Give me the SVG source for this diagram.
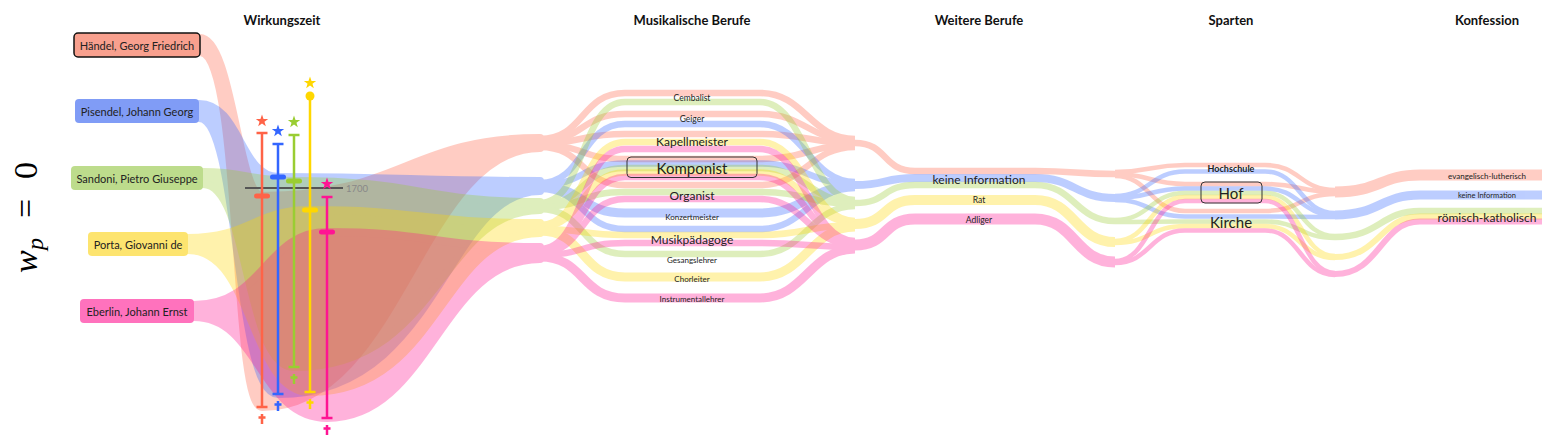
<svg xmlns="http://www.w3.org/2000/svg" xmlns:xlink="http://www.w3.org/1999/xlink" width="1552" height="436" viewBox="0 0 1552 436">
<style>
.hdr{font-family:Lato,"Open Sans",sans-serif;font-weight:700;font-size:13px;fill:#111;text-anchor:middle;dominant-baseline:central}
.lbl{font-family:Lato,"Open Sans",sans-serif;fill:#222;text-anchor:middle;dominant-baseline:central}
.ntx{font-family:Lato,"Open Sans",sans-serif;font-size:11px;fill:#222;text-anchor:middle;dominant-baseline:central}
.flow{opacity:0.32;fill:none}
.flow path{stroke-width:6.5}
.flow .big{stroke-width:8;stroke-linejoin:round}
.flow .w9{stroke-width:9}
.flow .sp{stroke-width:4.5}
.box{fill:none;stroke:#333;stroke-width:1}
.tl{stroke-width:2.5;fill:none}
</style>
<defs>
<polygon id="star" points="0,-6.5 1.53,-2.1 6.18,-2.01 2.47,0.8 3.82,5.26 0,2.6 -3.82,5.26 -2.47,0.8 -6.18,-2.01 -1.53,-2.1"/>
<path id="cross" d="M0,-5V5M-3.5,-1.5H3.5" stroke-width="2.5" fill="none"/>
</defs>
<rect width="1552" height="436" fill="#fff"/>

<text transform="translate(37,273) rotate(-90)" font-family="'Liberation Serif',serif" font-size="34" fill="#000"><tspan x="0" font-style="italic">w</tspan><tspan x="23" dy="6" font-size="24" font-style="italic">p</tspan><tspan x="55" dy="-6">=</tspan><tspan x="94">0</tspan></text>

<g id="headers">
<text class="hdr" x="282" y="20">Wirkungszeit</text>
<text class="hdr" x="692" y="20">Musikalische Berufe</text>
<text class="hdr" x="979" y="20">Weitere Berufe</text>
<text class="hdr" x="1231" y="20">Sparten</text>
<text class="hdr" x="1487" y="20">Konfession</text>
</g>

<g id="connectors">
<g id="flow-haendel" class="flow" stroke="#ff6347">
<path class="big" fill="#ff6347" d="M200,38 C232,38 238,196 262,196 C400,196 410,138 540,138 L540,148 C420,148 400,407 262,407 C232,407 242,52 200,52 Z"/>
<path d="M540,139 C585,139 580,93 625,93 L760,93 C805,93 810,139 855,139"/>
<path d="M540,141 C585,141 580,114 625,114 L760,114 C805,114 810,141 855,141"/>
<path d="M540,143 C585,143 580,134 625,134 L760,134 C805,134 810,143 855,143"/>
<path d="M540,145 C585,145 580,159 625,159 L760,159 C805,159 810,145 855,145"/>
<path d="M540,147 C585,147 580,185 625,185 L760,185 C805,185 810,147 855,147"/>
<path d="M855,143 C888,143 882,171 915,171 L1035,171 C1075,171 1075,174 1115,174"/>
<path class="sp" d="M1115,172 C1150,172 1150,165 1185,165 L1265,165 C1300,165 1300,190 1335,190"/>
<path class="sp" d="M1115,174 C1150,174 1150,184 1185,184 L1265,184 C1300,184 1300,192 1335,192"/>
<path class="sp" d="M1115,176 C1150,176 1150,211 1185,211 L1265,211 C1300,211 1300,194 1335,194"/>
<path style="stroke-width:11" d="M1335,192 C1380,192 1380,175 1420,175 L1542,175"/>
</g>
<g id="flow-pisendel" class="flow" stroke="#3366ff">
<path class="big" fill="#3366ff" d="M199,104 C240,104 240,177 278,177 C400,177 420,181 540,181 L540,191 C445,191 440,394 278,394 C235,394 240,118 199,118 Z"/>
<path d="M540,183 C585,183 580,124 625,124 L760,124 C805,124 810,182 855,182"/>
<path d="M540,185 C585,185 580,163.5 625,163.5 L760,163.5 C805,163.5 810,184 855,184"/>
<path class="w9" d="M540,187 C585,187 580,213 625,213 L760,213 C805,213 810,186 855,186"/>
<path d="M540,189 C585,189 580,229 625,229 L760,229 C805,229 810,188 855,188"/>
<path style="stroke-width:8" d="M855,185 C888,185 882,178 915,178 L1035,178 C1075,178 1075,198 1115,198"/>
<path class="sp" d="M1115,196 C1150,196 1150,171.5 1185,171.5 L1265,171.5 C1300,171.5 1300,213 1335,213"/>
<path class="sp" d="M1115,198 C1150,198 1150,188.5 1185,188.5 L1265,188.5 C1300,188.5 1300,215 1335,215"/>
<path class="sp" d="M1115,200 C1150,200 1150,216.5 1185,216.5 L1265,216.5 C1300,216.5 1300,217 1335,217"/>
<path style="stroke-width:9" d="M1335,215 C1380,215 1380,195 1420,195 L1542,195"/>
</g>
<g id="flow-sandoni" class="flow" stroke="#9acd32">
<path class="big" fill="#9acd32" d="M203,172 C245,172 250,181 294,181 C420,181 420,202 540,202 L540,210 C440,210 440,367 294,367 C245,367 250,184 203,184 Z"/>
<path d="M540,203 C585,203 580,102 625,102 L760,102 C805,102 810,200 855,200"/>
<path d="M540,205 C585,205 580,168 625,168 L760,168 C805,168 810,202 855,202"/>
<path d="M540,207 C585,207 580,192 625,192 L760,192 C805,192 810,204 855,204"/>
<path d="M540,209 C585,209 580,254 625,254 L760,254 C805,254 810,206 855,206"/>
<path d="M855,203 C888,203 882,185 915,185 L1035,185 C1075,185 1075,221 1115,221"/>
<path class="sp" d="M1115,220 C1150,220 1150,193 1185,193 L1265,193 C1300,193 1300,236 1335,236"/>
<path class="sp" d="M1115,222 C1150,222 1150,221.5 1185,221.5 L1265,221.5 C1300,221.5 1300,238 1335,238"/>
<path style="stroke-width:6.5" d="M1335,237 C1380,237 1380,211 1420,211 L1542,211"/>
</g>
<g id="flow-porta" class="flow" stroke="#ffd700">
<path class="big" fill="#ffd700" d="M188,238 C250,238 255,210 310,210 C420,210 420,223 540,223 L540,233 C440,233 440,392 310,392 C250,392 255,250 188,250 Z"/>
<path d="M540,225 C585,225 580,142 625,142 L760,142 C805,142 810,221 855,221"/>
<path d="M540,227 C585,227 580,172.5 625,172.5 L760,172.5 C805,172.5 810,223 855,223"/>
<path d="M540,229 C585,229 580,235 625,235 L760,235 C805,235 810,225 855,225"/>
<path class="w9" d="M540,231 C585,231 580,277 625,277 L760,277 C805,277 810,227 855,227"/>
<path style="stroke-width:10" d="M855,224 C888,224 882,200 915,200 L1035,200 C1075,200 1075,242 1115,242"/>
<path class="sp" d="M1115,241 C1150,241 1150,197 1185,197 L1265,197 C1300,197 1300,256 1335,256"/>
<path class="sp" d="M1115,243 C1150,243 1150,226 1185,226 L1265,226 C1300,226 1300,258 1335,258"/>
<path style="stroke-width:6" d="M1335,257 C1380,257 1380,216.5 1420,216.5 L1542,216.5"/>
</g>
<g id="flow-eberlin" class="flow" stroke="#ff1493">
<path class="big" fill="#ff1493" d="M194,305 C265,305 265,232 327,232 C430,232 430,247 540,247 L540,259 C440,259 430,418 327,418 C260,418 260,317 194,317 Z"/>
<path d="M540,249 C585,249 580,149 625,149 L760,149 C805,149 810,241 855,241"/>
<path d="M540,251 C585,251 580,177 625,177 L760,177 C805,177 810,243 855,243"/>
<path d="M540,253 C585,253 580,199 625,199 L760,199 C805,199 810,245 855,245"/>
<path d="M540,255 C585,255 580,243 625,243 L760,243 C805,243 810,247 855,247"/>
<path class="w9" d="M540,257 C585,257 580,298 625,298 L760,298 C805,298 810,249 855,249"/>
<path style="stroke-width:11" d="M855,245 C888,245 882,219 915,219 L1035,219 C1075,219 1075,262 1115,262"/>
<path class="sp" d="M1115,261 C1150,261 1150,201 1185,201 L1265,201 C1300,201 1300,273 1335,273"/>
<path class="sp" d="M1115,263 C1150,263 1150,230.5 1185,230.5 L1265,230.5 C1300,230.5 1300,275 1335,275"/>
<path style="stroke-width:6" d="M1335,274 C1380,274 1380,221.5 1420,221.5 L1542,221.5"/>
</g>
</g>

<g id="timeline">
<line x1="245" y1="188" x2="343" y2="188" stroke="#555" stroke-width="1.8"/>
<text x="346" y="188" font-family="Lato,sans-serif" font-size="9.5" fill="#888" dominant-baseline="central">1700</text>
<g id="tl-haendel" stroke="#ff6347" fill="#ff6347">
<line class="tl" x1="262" y1="133" x2="262" y2="407"/>
<line class="tl" x1="256.5" y1="133" x2="267.5" y2="133"/>
<line class="tl" x1="256.5" y1="407" x2="267.5" y2="407"/>
<rect x="254" y="193.5" width="16" height="5" rx="2.5" stroke="none"/>
<use href="#star" x="262" y="121" stroke="none"/>
<use href="#cross" x="262" y="419"/>
</g>
<g id="tl-pisendel" stroke="#3366ff" fill="#3366ff">
<line class="tl" x1="278" y1="144" x2="278" y2="394"/>
<line class="tl" x1="272.5" y1="144" x2="283.5" y2="144"/>
<line class="tl" x1="272.5" y1="394" x2="283.5" y2="394"/>
<rect x="270" y="174.5" width="16" height="5" rx="2.5" stroke="none"/>
<use href="#star" x="278" y="131" stroke="none"/>
<use href="#cross" x="278" y="406"/>
</g>
<g id="tl-sandoni" stroke="#9acd32" fill="#9acd32">
<line class="tl" x1="294" y1="135" x2="294" y2="367"/>
<line class="tl" x1="288.5" y1="135" x2="299.5" y2="135"/>
<line class="tl" x1="288.5" y1="367" x2="299.5" y2="367"/>
<rect x="286" y="178.5" width="16" height="5" rx="2.5" stroke="none"/>
<use href="#star" x="294" y="122" stroke="none"/>
<use href="#cross" x="294" y="379"/>
</g>
<g id="tl-porta" stroke="#ffd700" fill="#ffd700">
<line class="tl" x1="310" y1="96" x2="310" y2="392"/>
<circle cx="310" cy="96" r="4.5" stroke="none"/>
<line class="tl" x1="304.5" y1="392" x2="315.5" y2="392"/>
<rect x="302" y="207.5" width="16" height="5" rx="2.5" stroke="none"/>
<use href="#star" x="310" y="83" stroke="none"/>
<use href="#cross" x="310" y="404"/>
</g>
<g id="tl-eberlin" stroke="#ff1493" fill="#ff1493">
<line class="tl" x1="327" y1="197" x2="327" y2="418"/>
<line class="tl" x1="321.5" y1="197" x2="332.5" y2="197"/>
<line class="tl" x1="321.5" y1="418" x2="332.5" y2="418"/>
<rect x="319" y="229.5" width="16" height="5" rx="2.5" stroke="none"/>
<use href="#star" x="327" y="184" stroke="none"/>
<use href="#cross" x="327" y="430"/>
</g>
</g>

<g id="node-haendel"><rect x="74" y="33" width="126" height="24" rx="4" fill="#f8a08e" stroke="#111" stroke-width="1.5"/><text class="ntx" x="137" y="45">Händel, Georg Friedrich</text></g>
<g id="node-pisendel"><rect x="75" y="99" width="124" height="24" rx="4" fill="#809cf6"/><text class="ntx" x="137" y="111">Pisendel, Johann Georg</text></g>
<g id="node-sandoni"><rect x="71" y="166" width="132" height="24" rx="4" fill="#bddc8c"/><text class="ntx" x="137" y="178">Sandoni, Pietro Giuseppe</text></g>
<g id="node-porta"><rect x="88" y="232" width="100" height="24" rx="4" fill="#fde46f"/><text class="ntx" x="138" y="244">Porta, Giovanni de</text></g>
<g id="node-eberlin"><rect x="80" y="299" width="114" height="24" rx="4" fill="#ff72bd"/><text class="ntx" x="137" y="311">Eberlin, Johann Ernst</text></g>

<g id="berufe">
<g id="b-cembalist"><text class="lbl" x="692" y="98" font-size="8.5">Cembalist</text></g>
<g id="b-geiger"><text class="lbl" x="692" y="119" font-size="8.5">Geiger</text></g>
<g id="b-kapellmeister"><text class="lbl" x="692" y="141" font-size="12">Kapellmeister</text></g>
<g id="b-komponist"><rect class="box" x="627" y="157" width="130" height="20.5" rx="4"/><text class="lbl" x="692" y="167.5" font-size="15">Komponist</text></g>
<g id="b-organist"><text class="lbl" x="692" y="195" font-size="12">Organist</text></g>
<g id="b-konzertmeister"><text class="lbl" x="692" y="217" font-size="8">Konzertmeister</text></g>
<g id="b-musikpaedagoge"><text class="lbl" x="692" y="239" font-size="12">Musikpädagoge</text></g>
<g id="b-gesangslehrer"><text class="lbl" x="692" y="260" font-size="8">Gesangslehrer</text></g>
<g id="b-chorleiter"><text class="lbl" x="692" y="279" font-size="8">Chorleiter</text></g>
<g id="b-instrumentallehrer"><text class="lbl" x="692" y="299" font-size="8">Instrumentallehrer</text></g>
</g>
<g id="weitere">
<g id="w-keine"><text class="lbl" x="979" y="179" font-size="12">keine Information</text></g>
<g id="w-rat"><text class="lbl" x="979" y="200" font-size="8.5">Rat</text></g>
<g id="w-adliger"><text class="lbl" x="979" y="220" font-size="8.5">Adliger</text></g>
</g>
<g id="sparten">
<g id="s-hochschule"><text class="lbl" x="1231" y="168.5" font-size="9" font-weight="700">Hochschule</text></g>
<g id="s-hof"><rect class="box" x="1201" y="182" width="61" height="21" rx="4"/><text class="lbl" x="1231" y="192.5" font-size="15">Hof</text></g>
<g id="s-kirche"><text class="lbl" x="1231" y="222" font-size="15">Kirche</text></g>
</g>
<g id="konfession">
<g id="k-evlu"><text class="lbl" x="1487" y="176" font-size="8">evangelisch-lutherisch</text></g>
<g id="k-keine"><text class="lbl" x="1487" y="195" font-size="7.5">keine Information</text></g>
<g id="k-rk"><text class="lbl" x="1487" y="217" font-size="12">römisch-katholisch</text></g>
</g>
</svg>
